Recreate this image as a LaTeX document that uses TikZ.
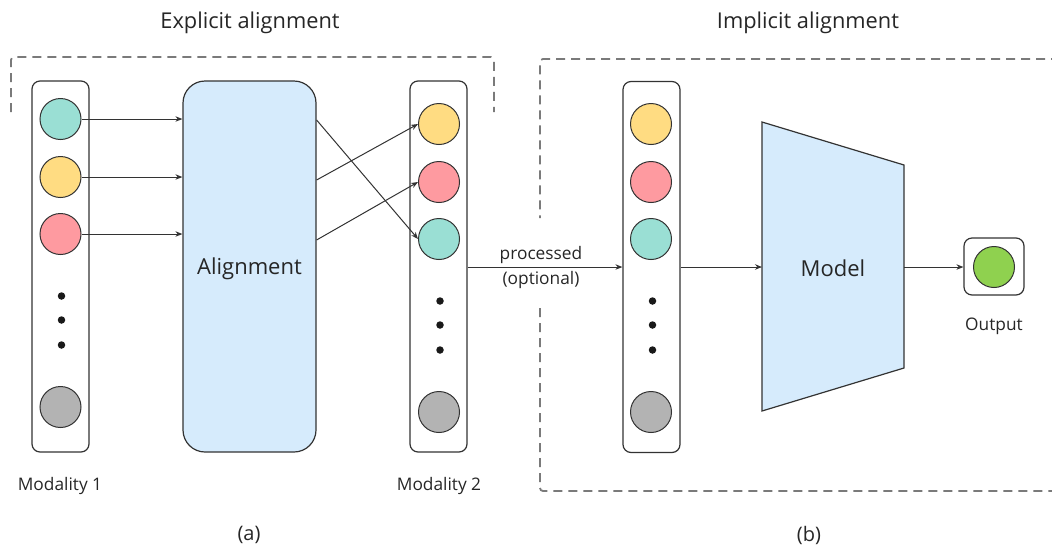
\documentclass[tikz,border=0pt]{standalone}
\usepackage{fontspec}
\setmainfont{Open Sans}
\usetikzlibrary{arrows.meta}

\definecolor{linec}{HTML}{333333}
\definecolor{textc}{HTML}{262626}
\definecolor{dashc}{HTML}{7A7A7A}
\definecolor{tealc}{HTML}{9ADFD4}
\definecolor{yellowc}{HTML}{FFDC82}
\definecolor{redc}{HTML}{FE9AA0}
\definecolor{grayc}{HTML}{B3B3B3}
\definecolor{greenc}{HTML}{8FD14F}
\definecolor{bluec}{HTML}{D6EBFC}

\tikzset{
  column/.style={draw=linec, line width=1.2pt, rounded corners=8pt, fill=white,
    minimum width=57pt, minimum height=371pt, inner sep=0pt},
  token/.style={circle, draw=linec, line width=1pt, minimum size=41pt, inner sep=0pt},
  ellip/.style={circle, fill=black!90, minimum size=7.5pt, inner sep=0pt},
  conn/.style={draw=linec, line width=1pt, -{Stealth[length=7pt,width=5.5pt]}},
  zone/.style={draw=dashc, line width=1.8pt, dash pattern=on 9pt off 6pt, rounded corners=3pt},
  small/.style={text=textc, font=\fontsize{17.3}{20}\selectfont},
  big/.style={text=textc, font=\fontsize{22}{26}\selectfont},
  heading/.style={text=textc, font=\fontsize{21.8}{26}\selectfont},
  caption/.style={text=textc, font=\fontsize{20}{24}\selectfont}
}

\begin{document}
\begin{tikzpicture}[x=1pt, y=-1pt]
\useasboundingbox (0,0) rectangle (1052,547);

% dashed group frames
\draw[zone] (11,112) -- (11,57) -- (494,57) -- (494,112);
\draw[zone] (1060,59) -- (540,59) -- (540,218);
\draw[zone] (540,308) -- (540,491) -- (1060,491);

% headings
\node[heading] (hexp) at (250,22.5) {Explicit alignment};
\node[heading] (himp) at (808,22.5) {Implicit alignment};

% modality 1
\node[column] (m1) at (60.5,266.5) {};
\node[token, fill=tealc]   (a1) at (60.5,119) {};
\node[token, fill=yellowc] (a2) at (60.5,177) {};
\node[token, fill=redc]    (a3) at (60.5,234) {};
\node[ellip] (ad1) at (61.5,296) {};
\node[ellip] (ad2) at (61.5,320) {};
\node[ellip] (ad3) at (61.5,345) {};
\node[token, fill=grayc]   (a4) at (60.5,407) {};
\node[small] (lm1) at (60,485.5) {Modality 1};

% alignment block
\node[draw=linec, line width=1.2pt, fill=bluec, rounded corners=22pt,
  minimum width=133pt, minimum height=371pt, inner sep=0pt] (align) at (249.5,266.5) {};
\node[big] (alab) at (249.5,268.5) {Alignment};

% modality 2
\node[column] (m2) at (438.5,266.5) {};
\node[token, fill=yellowc] (b1) at (439,124) {};
\node[token, fill=redc]    (b2) at (439,182) {};
\node[token, fill=tealc]   (b3) at (439,239) {};
\node[ellip] (bd1) at (440,301) {};
\node[ellip] (bd2) at (440,325) {};
\node[ellip] (bd3) at (440,350) {};
\node[token, fill=grayc]   (b4) at (439,412) {};
\node[small] (lm2) at (439,485.5) {Modality 2};

% modality 1 -> alignment
\draw[conn] (a1.east) -- (align.west |- a1);
\draw[conn] (a2.east) -- (align.west |- a2);
\draw[conn] (a3.east) -- (align.west |- a3);

% alignment -> modality 2 (reordered)
\coordinate (s1) at (align.east |- 0,120);
\coordinate (s2) at (align.east |- 0,180);
\coordinate (s3) at (align.east |- 0,240);
\draw[conn] (s1) -- (b3.west);
\draw[conn] (s2) -- (b1.west);
\draw[conn] (s3) -- (b2.west);

% implicit branch input column
\node[column] (m3) at (651.5,267) {};
\node[token, fill=yellowc] (c1) at (651,124) {};
\node[token, fill=redc]    (c2) at (651,182) {};
\node[token, fill=tealc]   (c3) at (651,239) {};
\node[ellip] (cd1) at (652.5,301) {};
\node[ellip] (cd2) at (652.5,325) {};
\node[ellip] (cd3) at (652.5,350) {};
\node[token, fill=grayc]   (c4) at (651,412) {};

\draw[conn] (m2.east |- 0,267) -- (m3.west |- 0,267);
\node[small] (lp1) at (541,254.5) {processed};
\node[small] (lp2) at (541,280) {(optional)};

% model
\coordinate (mtl) at (762,122);
\coordinate (mtr) at (904,165);
\coordinate (mbr) at (904,368);
\coordinate (mbl) at (762,411);
\draw[draw=linec, line width=1.2pt, fill=bluec] (mtl) -- (mtr) -- (mbr) -- (mbl) -- cycle;
\node[big] (model) at (833,268) {Model};
\coordinate (min) at (762,267);
\coordinate (mout) at (904,267);
\draw[conn] (m3.east |- 0,267) -- (min);

% output
\node[draw=linec, line width=1.2pt, fill=white, rounded corners=8pt,
  minimum width=60pt, minimum height=57pt, inner sep=0pt] (out) at (994,266.5) {};
\node[token, fill=greenc] (o1) at (994,267) {};
\draw[conn] (mout) -- (out.west |- mout);
\node[small] (lout) at (994,326.5) {Output};

% captions
\node[caption] (ca) at (249,535) {(a)};
\node[caption] (cb) at (809,535) {(b)};
\end{tikzpicture}
\end{document}
